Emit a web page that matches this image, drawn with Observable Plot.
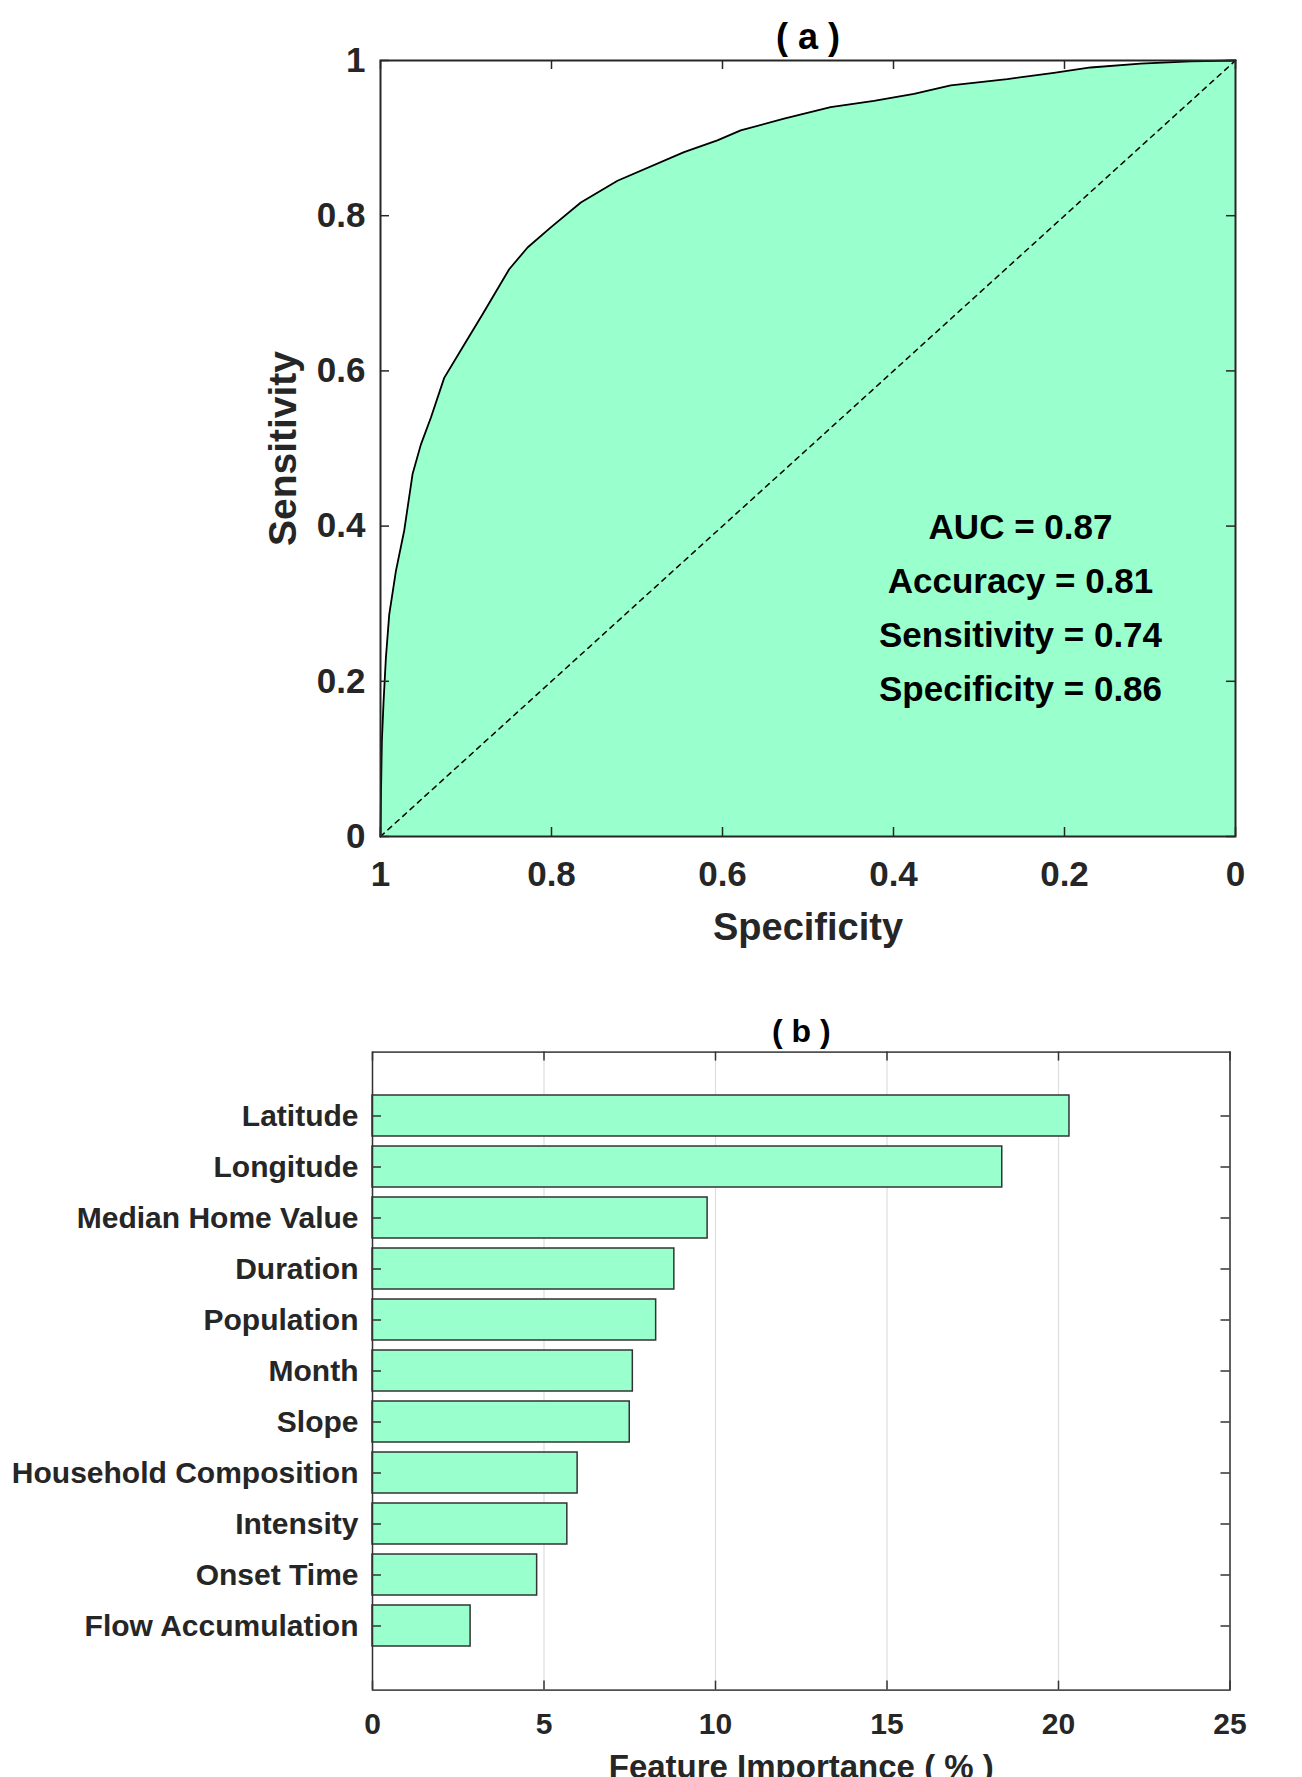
<!DOCTYPE html>
<html><head><meta charset="utf-8">
<script src="https://cdn.jsdelivr.net/npm/d3@7"></script>
<script src="https://cdn.jsdelivr.net/npm/@observablehq/plot@0.6"></script>
<style>
html,body{margin:0;padding:0;background:#fff;}
body{width:1302px;height:1777px;overflow:hidden;position:relative;}
#a{position:absolute;left:0;top:0;}
#b{position:absolute;left:0;top:975px;}
</style></head><body>
<div id="a"></div><div id="b"></div>
<script>
// ---- Panel (a): ROC curve ----
const rocSpecificity = [1.0, 0.9995, 0.9984, 0.9964, 0.9937, 0.9898, 0.982, 0.9723, 0.9625, 0.9528, 0.941, 0.9255, 0.902, 0.8806, 0.8495, 0.828, 0.8008, 0.7657, 0.7228, 0.645, 0.606, 0.5787, 0.528, 0.4735, 0.4228, 0.376, 0.333, 0.2669, 0.2124, 0.1695, 0.111, 0.0526, 0.0];
const rocSensitivity = [0.0, 0.05, 0.123, 0.174, 0.230, 0.286, 0.342, 0.394, 0.467, 0.505, 0.540, 0.591, 0.634, 0.673, 0.731, 0.759, 0.785, 0.817, 0.845, 0.882, 0.897, 0.910, 0.925, 0.940, 0.948, 0.957, 0.968, 0.976, 0.984, 0.991, 0.996, 0.999, 1.0];
const chanceSpecificity = [1, 0];
const chanceSensitivity = [0, 1];
const rocTicks = [0, 0.2, 0.4, 0.6, 0.8, 1];
const statLines = ["AUC = 0.87", "Accuracy = 0.81", "Sensitivity = 0.74", "Specificity = 0.86"];
const titleA = "( a )";
const xLabelA = "Specificity";
const yLabelA = "Sensitivity";

// ---- Panel (b): feature importance ----
const features = ["Latitude", "Longitude", "Median Home Value", "Duration", "Population", "Month", "Slope", "Household Composition", "Intensity", "Onset Time", "Flow Accumulation"];
const importance = [20.32, 18.36, 9.77, 8.80, 8.27, 7.59, 7.50, 5.98, 5.68, 4.80, 2.86];
const importanceTicks = [0, 5, 10, 15, 20, 25];
const titleB = "( b )";
const xLabelB = "Feature Importance ( % )";

const FONT = '"Liberation Sans", Arial, Helvetica, sans-serif';
const MINT = "#99ffcc";
const TICK = 9;

const roc = rocSpecificity.map((s, i) => ({spec: s, sens: rocSensitivity[i]}));
const chance = chanceSpecificity.map((s, i) => ({spec: s, sens: chanceSensitivity[i]}));

const WA = 1302, HA = 975, mlA = 380, mrA = 67, mtA = 60, mbA = 139;
const fhA = HA - mtA - mbA, fwA = WA - mlA - mrA;
const centered = {textAnchor: "middle", lineAnchor: "middle"};

const chartA = Plot.plot({
  width: WA, height: HA,
  marginLeft: mlA, marginRight: mrA, marginTop: mtA, marginBottom: mbA,
  style: {fontFamily: FONT, fontWeight: "bold", background: "white", color: "#262626"},
  x: {domain: [0, 1], reverse: true, label: null},
  y: {domain: [0, 1], label: null},
  marks: [
    Plot.areaY(roc, {x: "spec", y: "sens", fill: MINT}),
    Plot.line(chance, {x: "spec", y: "sens", stroke: "#000", strokeWidth: 1.5, strokeDasharray: "5,5"}),
    Plot.line(roc, {x: "spec", y: "sens", stroke: "#000", strokeWidth: 1.8}),
    Plot.tickX(rocTicks, {x: d => d, insetTop: fhA - TICK, stroke: "#262626", strokeWidth: 1.5}),
    Plot.tickX(rocTicks, {x: d => d, insetBottom: fhA - TICK, stroke: "#262626", strokeWidth: 1.5}),
    Plot.tickY(rocTicks, {y: d => d, insetRight: fwA - TICK, stroke: "#262626", strokeWidth: 1.5}),
    Plot.tickY(rocTicks, {y: d => d, insetLeft: fwA - TICK, stroke: "#262626", strokeWidth: 1.5}),
    Plot.frame({stroke: "#262626", strokeWidth: 2}),
    Plot.axisX({ticks: rocTicks, anchor: "bottom", tickSize: 0, tickPadding: 25, fontSize: 35, label: null, tickFormat: d => String(d)}),
    Plot.axisY({ticks: rocTicks, anchor: "left", tickSize: 0, tickPadding: 15, fontSize: 35, label: null, tickFormat: d => String(d)}),
    Plot.text([statLines.join("\n")], {text: d => d, frameAnchor: "bottom-right", dx: -215, dy: -234, fontSize: 35, lineHeight: 1.543, ...centered, fill: "#000"}),
    Plot.text([titleA], {text: d => d, frameAnchor: "top", dy: -23, fontSize: 36, ...centered, fill: "#000"}),
    Plot.text([xLabelA], {text: d => d, frameAnchor: "bottom", dy: 91, fontSize: 38, ...centered, fill: "#262626"}),
    Plot.text([yLabelA], {text: d => d, frameAnchor: "left", dx: -97, rotate: -90, fontSize: 39, ...centered, fill: "#262626"})
  ]
});
document.getElementById("a").append(chartA);

const bars = features.map((f, i) => ({feature: f, value: importance[i]}));
const WB = 1302, HB = 830, mlB = 372, mrB = 72.5, mtB = 76.6, mbB = 115.4;
const fhB = HB - mtB - mbB, fwB = WB - mlB - mrB;

const chartB = Plot.plot({
  width: WB, height: HB,
  marginLeft: mlB, marginRight: mrB, marginTop: mtB, marginBottom: mbB,
  style: {fontFamily: FONT, fontWeight: "bold", background: "white", color: "#262626", overflow: "visible"},
  x: {domain: [0, 25], label: null},
  y: {domain: features, paddingInner: 0.2, paddingOuter: 0.775, label: null},
  marks: [
    Plot.ruleX(importanceTicks, {x: d => d, stroke: "#dedede", strokeWidth: 1.2}),
    Plot.barX(bars, {x: "value", y: "feature", fill: MINT, stroke: "#333", strokeWidth: 1.5}),
    Plot.tickX(importanceTicks, {x: d => d, insetTop: fhB - TICK, stroke: "#333", strokeWidth: 1.5}),
    Plot.tickX(importanceTicks, {x: d => d, insetBottom: fhB - TICK, stroke: "#333", strokeWidth: 1.5}),
    Plot.tickY(features, {y: d => d, insetRight: fwB - TICK, stroke: "#333", strokeWidth: 1.5}),
    Plot.tickY(features, {y: d => d, insetLeft: fwB - TICK, stroke: "#333", strokeWidth: 1.5}),
    Plot.frame({stroke: "#333", strokeWidth: 1.5}),
    Plot.axisX({ticks: importanceTicks, anchor: "bottom", tickSize: 0, tickPadding: 23, fontSize: 30, label: null}),
    Plot.axisY({anchor: "left", tickSize: 0, tickPadding: 14, fontSize: 30, label: null}),
    Plot.text([titleB], {text: d => d, frameAnchor: "top", dy: -20.6, fontSize: 32, ...centered, fill: "#000"}),
    Plot.text([xLabelB], {text: d => d, frameAnchor: "bottom", dy: 77, fontSize: 33, ...centered, fill: "#262626"})
  ]
});
document.getElementById("b").append(chartB);
</script>
</body></html>
